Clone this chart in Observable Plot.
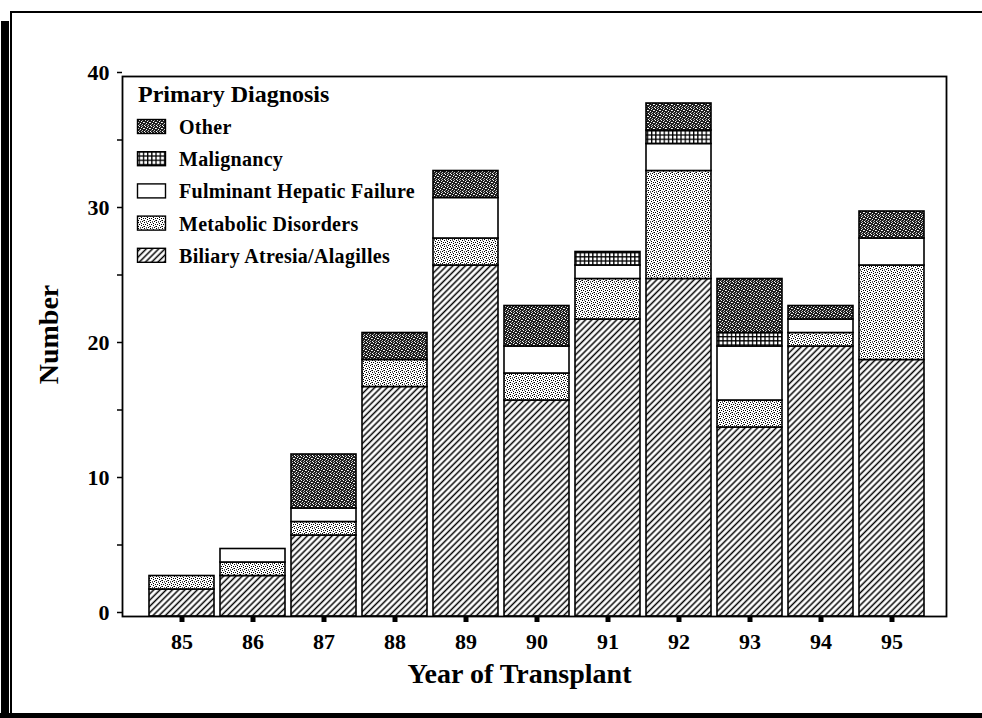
<!DOCTYPE html>
<html>
<head>
<meta charset="utf-8">
<script src="https://cdn.jsdelivr.net/npm/d3@7"></script>
<script src="https://cdn.jsdelivr.net/npm/@observablehq/plot@0.6"></script>
<style>
html, body { margin: 0; padding: 0; background: #fff; }
#wrap { position: relative; width: 982px; height: 718px; overflow: hidden; font-family: "Liberation Serif", "Times New Roman", serif; }
#wrap > svg { position: absolute; left: 0; top: 0; }
.deco { position: absolute; background: #000; }
</style>
</head>
<body>
<div id="wrap">
<svg id="defs" width="0" height="0" style="position:absolute;left:0;top:0">
  <defs>
    <pattern id="pBiliary" width="4.4" height="4.4" patternUnits="userSpaceOnUse" patternTransform="rotate(45)">
      <rect width="4.4" height="4.4" fill="#fff"/>
      <line x1="2.2" y1="-1" x2="2.2" y2="5.4" stroke="#000" stroke-width="1.5"/>
    </pattern>
    <pattern id="pMetabolic" width="6" height="6" patternUnits="userSpaceOnUse">
      <rect width="6" height="6" fill="#fff"/>
      <rect x="0" y="0" width="1" height="1" fill="#000"/>
      <rect x="3" y="1" width="1" height="1" fill="#000"/>
      <rect x="1" y="2" width="1" height="1" fill="#000"/>
      <rect x="5" y="2" width="1" height="1" fill="#000"/>
      <rect x="3" y="3" width="1" height="1" fill="#000"/>
      <rect x="0" y="4" width="1" height="1" fill="#000"/>
      <rect x="4" y="5" width="1" height="1" fill="#000"/>
      <rect x="2" y="5" width="1" height="1" fill="#555"/>
      <rect x="5" y="4" width="1" height="1" fill="#666"/>
      <rect x="2" y="0" width="1" height="1" fill="#777"/>
    </pattern>
    <pattern id="pFHF" width="4" height="4" patternUnits="userSpaceOnUse">
      <rect width="4" height="4" fill="#fff"/>
    </pattern>
    <pattern id="pMalig" width="4.2" height="4.2" patternUnits="userSpaceOnUse">
      <rect width="4.2" height="4.2" fill="#fff"/>
      <rect x="0" y="0" width="4.2" height="1.3" fill="#000"/>
      <rect x="0" y="0" width="1.3" height="4.2" fill="#000"/>
    </pattern>
    <pattern id="pOther" width="6" height="6" patternUnits="userSpaceOnUse">
      <rect width="6" height="6" fill="#1e1e1e"/>
      <rect x="1" y="0" width="1" height="1" fill="#fff"/>
      <rect x="4" y="0" width="1" height="1" fill="#bbb"/>
      <rect x="3" y="1" width="1" height="1" fill="#fff"/>
      <rect x="0" y="2" width="1" height="1" fill="#ddd"/>
      <rect x="5" y="2" width="1" height="1" fill="#fff"/>
      <rect x="2" y="3" width="1" height="1" fill="#fff"/>
      <rect x="4" y="4" width="1" height="1" fill="#ccc"/>
      <rect x="0" y="5" width="1" height="1" fill="#fff"/>
      <rect x="3" y="5" width="1" height="1" fill="#aaa"/>
      <rect x="1" y="4" width="1" height="1" fill="#888"/>
    </pattern>
  </defs>
</svg>
<div class="deco" style="left:10px;top:11px;width:972px;height:1.5px;"></div>
<div class="deco" style="left:10px;top:11px;width:1.5px;height:707px;"></div>
<div class="deco" style="left:1px;top:21px;width:8px;height:697px;"></div>
<div class="deco" style="left:0px;top:713px;width:982px;height:5px;"></div>
</div>
<script>
// ---- data ----
const years = ["85", "86", "87", "88", "89", "90", "91", "92", "93", "94", "95"];
const seriesNames = ["Biliary Atresia/Alagilles", "Metabolic Disorders", "Fulminant Hepatic Failure", "Malignancy", "Other"];
const biliary    = [2, 3, 6, 17, 26, 16, 22, 25, 14, 20, 19];
const metabolic  = [1, 1, 1,  2,  2,  2,  3,  8,  2,  1,  7];
const fulminant  = [0, 1, 1,  0,  3,  2,  1,  2,  4,  1,  2];
const malignancy = [0, 0, 0,  0,  0,  0,  1,  1,  1,  0,  0];
const other      = [0, 0, 4,  2,  2,  3,  0,  2,  4,  1,  2];
const yTicks = [0, 5, 10, 15, 20, 25, 30, 35, 40];
const legendTitle = "Primary Diagnosis";
const legendOrder = ["Other", "Malignancy", "Fulminant Hepatic Failure", "Metabolic Disorders", "Biliary Atresia/Alagilles"];
const xTitle = "Year of Transplant";
const yTitle = "Number";

// ---- build table ----
const seriesValues = [biliary, metabolic, fulminant, malignancy, other];
const patternIds = ["pBiliary", "pMetabolic", "pFHF", "pMalig", "pOther"];
const fills = patternIds.map(id => `url(#${id})`);
const rows = [];
years.forEach((yr, i) => {
  seriesNames.forEach((s, j) => {
    const v = seriesValues[j][i];
    if (v > 0) rows.push({year: yr, series: s, count: v});
  });
});

const font = "Liberation Serif, Times New Roman, serif";

const chart = Plot.plot({
  width: 982,
  height: 718,
  marginTop: 76,
  marginBottom: 102,
  marginLeft: 122,
  marginRight: 36,
  style: {fontFamily: font, background: "transparent", color: "#000", overflow: "visible"},
  x: {type: "band", domain: years, range: [143, 931], paddingInner: 0.078, paddingOuter: 0.039, axis: null},
  y: {domain: [0, 40], axis: null},
  color: {type: "ordinal", domain: seriesNames, range: fills},
  marks: [
    Plot.barY(rows, Plot.stackY({x: "year", y: "count", fill: "series", stroke: "#000", strokeWidth: 1.6})),
    Plot.frame({stroke: "#000", strokeWidth: 1.8}),
    Plot.axisY({
      ticks: yTicks,
      tickSize: 5,
      tickPadding: 8,
      tickFormat: d => (d % 10 === 0 ? String(d) : ""),
      fontSize: 22,
      fontWeight: "bold",
      dy: -4,
      strokeWidth: 1.5,
      label: null
    }),
    Plot.axisX({
      tickSize: 6,
      tickPadding: 11,
      strokeWidth: 5,
      fontSize: 22,
      fontWeight: "bold",
      label: null
    }),
    Plot.text([xTitle], {frameAnchor: "bottom", dx: -15, dy: 58, text: d => d, fontSize: 28, fontWeight: "bold", textAnchor: "middle", lineAnchor: "middle", fill: "#000"}),
    Plot.text([yTitle], {frameAnchor: "left", rotate: -90, dx: -73, dy: -12, text: d => d, fontSize: 28, fontWeight: "bold", textAnchor: "middle", lineAnchor: "middle", fill: "#000"})
  ]
});

const wrap = document.getElementById("wrap");
wrap.insertBefore(chart, wrap.querySelector(".deco"));

// ---- legend (inside the plot area, top-left) ----
const legend = d3.select(wrap).append("svg")
  .attr("width", 982).attr("height", 718)
  .style("pointer-events", "none")
  .attr("font-family", font)
  .attr("font-weight", "bold");

legend.append("text")
  .attr("x", 138).attr("y", 102)
  .attr("font-size", 24)
  .text(legendTitle);

legendOrder.forEach((name, i) => {
  const base = 134 + i * 32.2;
  const idx = seriesNames.indexOf(name);
  legend.append("rect")
    .attr("x", 137.5).attr("y", base - 14.5)
    .attr("width", 28).attr("height", 14)
    .attr("fill", fills[idx])
    .attr("stroke", "#000").attr("stroke-width", 1.4);
  legend.append("text")
    .attr("x", 179).attr("y", base)
    .attr("font-size", 20)
    .attr("letter-spacing", "0.3px")
    .text(name);
});
</script>
</body>
</html>
